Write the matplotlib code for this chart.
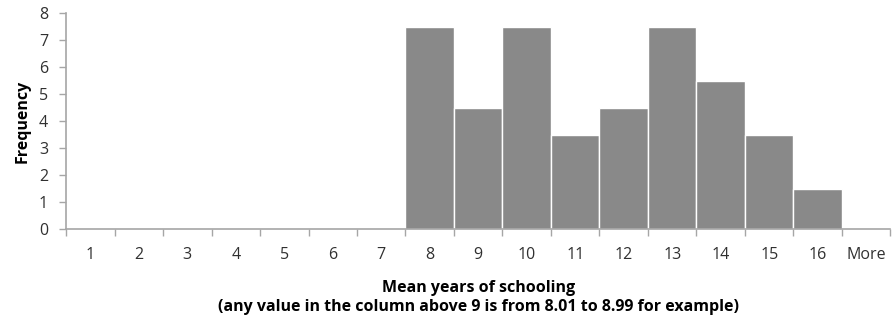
import numpy as np
import matplotlib
matplotlib.use('Agg')
import matplotlib.pyplot as plt

plt.rcParams['font.family'] = ['Open Sans', 'DejaVu Sans']

categories = ['1', '2', '3', '4', '5', '6', '7', '8', '9', '10', '11', '12', '13', '14', '15', '16', 'More']
frequency = [0, 0, 0, 0, 0, 0, 0, 7.5, 4.5, 7.5, 3.5, 4.5, 7.5, 5.5, 3.5, 1.5, 0]

axis_col = '#a6a6a6'
text_col = '#303030'

fig = plt.figure(figsize=(8.92, 3.21), dpi=100)
ax = fig.add_axes([0.074, 0.2857, 0.9243, 0.6729])

x = np.arange(len(categories))
ax.bar(x, frequency, width=1.0, color='#898989', edgecolor='white', linewidth=1.0)

ax.set_xlim(-0.5, len(categories) - 0.5)
ax.set_ylim(0, 8)
ax.set_yticks(range(0, 9))

ax.set_xticks(x)
ax.set_xticklabels(categories)
ax.set_xticks(np.arange(len(categories) + 1) - 0.5, minor=True)
ax.tick_params(axis='x', which='major', length=0, pad=13, labelsize=11.5, labelcolor=text_col)
ax.tick_params(axis='x', which='minor', length=5, width=1, color=axis_col, direction='out')
ax.tick_params(axis='y', length=5, width=1, color=axis_col, direction='out', pad=8,
               labelsize=11.5, labelcolor=text_col)

for s in ['top', 'right']:
    ax.spines[s].set_visible(False)
for s in ['left', 'bottom']:
    ax.spines[s].set_color(axis_col)
    ax.spines[s].set_linewidth(1.2)

ax.set_ylabel('Frequency', fontsize=11.5, fontweight='bold', color='black', labelpad=6)
ax.set_xlabel('Mean years of schooling\n(any value in the column above 9 is from 8.01 to 8.99 for example)',
              fontsize=11.5, fontweight='bold', color='black', labelpad=12, linespacing=1.25)

fig.savefig('out.png', dpi=100)
